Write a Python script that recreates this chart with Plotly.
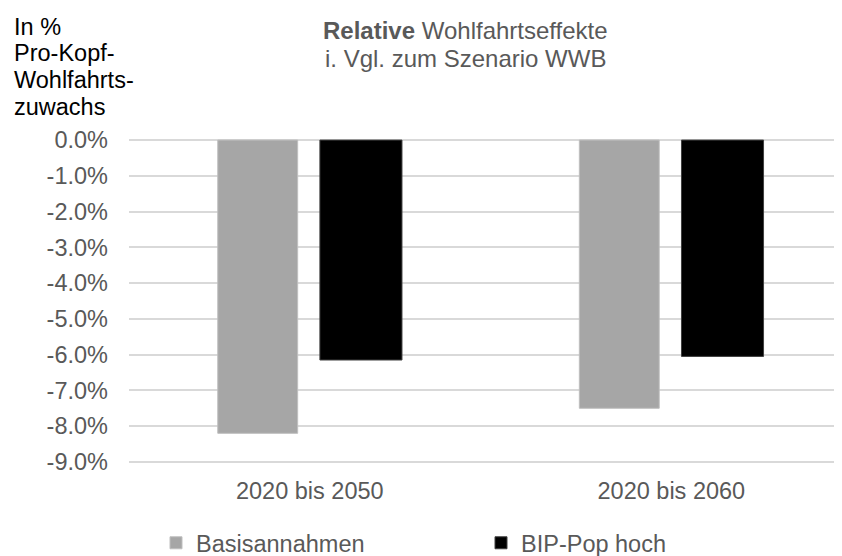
import plotly.graph_objects as go

categories = ["2020 bis 2050", "2020 bis 2060"]
basis_values = [-8.2, -7.5]
bip_values = [-6.15, -6.05]
series_names = ["Basisannahmen", "BIP-Pop hoch"]
y_ticks = [0, -1, -2, -3, -4, -5, -6, -7, -8, -9]
y_tick_labels = ["0.0%", "-1.0%", "-2.0%", "-3.0%", "-4.0%", "-5.0%", "-6.0%", "-7.0%", "-8.0%", "-9.0%"]
y_title_lines = ["In %", "Pro-Kopf-", "Wohlfahrts-", "zuwachs"]
title_lines = ["<b>Relative</b> Wohlfahrtseffekte", "i. Vgl. zum Szenario WWB"]

FONT = "Liberation Sans, Arial, sans-serif"
GREY_TXT = "#595959"
FS = 23.5
# page has an 8px body margin -> figure is 834x548 placed at (8,8)
OFF = 8
W, H = 842 - OFF, 556 - OFF
L, R, T, B = 129 - OFF, 0, 139 - OFF, 93
PW, PH = W - L - R, H - T - B


def px_x(x):  # reference page px -> paper x
    return (x - OFF - L) / PW


def px_y(y):  # reference page px -> paper y
    return (H - B - (y - OFF)) / PH


fig = go.Figure()
fig.add_trace(go.Bar(
    x=[0, 1], y=basis_values, name=series_names[0],
    width=0.221, offset=-0.2545,
    marker=dict(color="#a6a6a6", line=dict(color="#bfbfbf", width=1)),
))
fig.add_trace(go.Bar(
    x=[0, 1], y=bip_values, name=series_names[1],
    width=0.227, offset=0.028,
    marker=dict(color="#000000", line=dict(color="#404040", width=1)),
))

annotations = []
for line, yc in zip(title_lines, [30, 58]):
    annotations.append(dict(
        text=line, xref="paper", yref="paper", x=px_x(465), y=px_y(yc),
        xanchor="center", yanchor="middle", showarrow=False,
        font=dict(family=FONT, size=24, color=GREY_TXT),
    ))
for line, yc in zip(y_title_lines, [27, 53, 80, 107]):
    annotations.append(dict(
        text=line, xref="paper", yref="paper", x=px_x(12), y=px_y(yc),
        xanchor="left", yanchor="middle", showarrow=False,
        font=dict(family=FONT, size=FS, color="#000000"),
    ))

fig.update_layout(
    width=W, height=H,
    margin=dict(l=L, r=R, t=T, b=B, pad=0, autoexpand=False),
    plot_bgcolor="white", paper_bgcolor="white",
    font=dict(family=FONT, size=FS, color=GREY_TXT),
    barmode="group",
    showlegend=True,
    xaxis=dict(
        range=[-0.5, 1.472],
        tickvals=[0, 1], ticktext=categories,
        showgrid=False, zeroline=False, showline=False, ticks="",
        ticklabelstandoff=11,
        tickfont=dict(family=FONT, size=FS, color=GREY_TXT),
    ),
    yaxis=dict(
        range=[-9.03, 0.03],
        tickvals=y_ticks, ticktext=y_tick_labels,
        showgrid=True, gridcolor="#d9d9d9", gridwidth=1.5,
        zeroline=False, showline=False, ticks="",
        ticklabelstandoff=20,
        tickfont=dict(family=FONT, size=FS, color=GREY_TXT),
    ),
    legend=dict(
        orientation="h", xref="container", yref="container",
        x=(156 - OFF) / W, y=1 - (543 - OFF) / H,
        xanchor="left", yanchor="middle",
        entrywidth=280, entrywidthmode="pixels",
        traceorder="normal",
        font=dict(family=FONT, size=FS, color=GREY_TXT),
        bgcolor="rgba(0,0,0,0)", borderwidth=0,
    ),
    annotations=annotations,
)

fig.write_html("out.html")
